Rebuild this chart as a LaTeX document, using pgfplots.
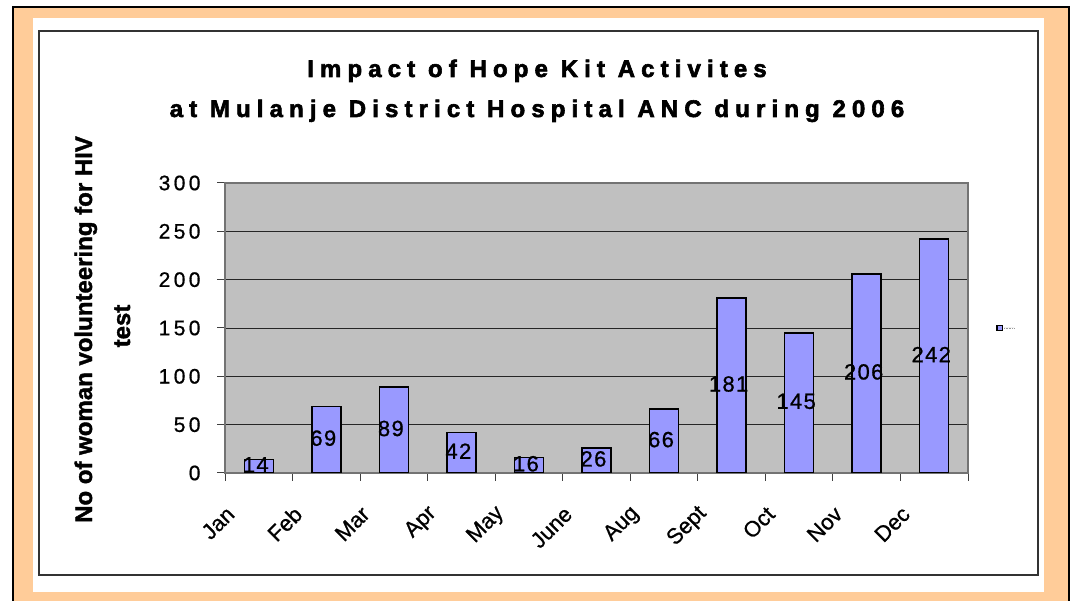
\documentclass[border=0pt]{standalone}
\usepackage{fontspec}
\setmainfont{Liberation Sans}
\usepackage{pgfplots}
\pgfplotsset{compat=1.18}
\definecolor{peach}{HTML}{FFCC99}
\definecolor{plotgray}{HTML}{C0C0C0}
\definecolor{barblue}{HTML}{9999FF}

\begin{document}
\begin{tikzpicture}[x=1pt,y=1pt]
\useasboundingbox (0,0) rectangle (1074,601);
\begin{scope}
\clip (0,0) rectangle (1074,601);
\fill[white] (0,0) rectangle (1074,601);
\filldraw[fill=peach, draw=black, line width=2pt] (13,-10) rectangle (1069,594);
\fill[white] (33,9) rectangle (1044,583);
\draw[black!80, line width=1.5pt] (39,26) rectangle (1038,570);
\end{scope}

\node[anchor=base, font=\fontsize{24}{28}\selectfont\bfseries\addfontfeature{LetterSpace=25.5,FakeBold=2.5}] at (537,524) {Impact of Hope Kit Activites};
\node[anchor=base, font=\fontsize{24}{28}\selectfont\bfseries\addfontfeature{LetterSpace=25.5,FakeBold=2.5}] at (537,484) {at Mulanje District Hospital ANC during 2006};

\node[rotate=90, anchor=base, font=\fontsize{24}{28}\selectfont\bfseries\addfontfeature{FakeBold=1.5}] at (92,271.5) {No of woman volunteering for HIV};
\node[rotate=90, anchor=base, font=\fontsize{24}{28}\selectfont\bfseries\addfontfeature{FakeBold=1.5}] at (130,275) {test};

\begin{axis}[
  at={(225pt,128pt)}, anchor=south west,
  scale only axis, width=743pt, height=290pt,
  xmin=-0.5, xmax=10.5, ymin=0, ymax=300,
  ytick={0,50,100,150,200,250,300},
  xtick={-0.5,0.5,1.5,2.5,3.5,4.5,5.5,6.5,7.5,8.5,9.5,10.5},
  xticklabels={Jan,Feb,Mar,Apr,May,June,Aug,Sept,Oct,Nov,Dec,{}},
  xtick pos=bottom, ytick pos=left,
  tick align=outside, major tick length=8pt,
  tick style={black!75, line width=1pt},
  ymajorgrids, grid style={black!85, line width=0.8pt},
  axis background/.style={fill=plotgray},
  axis line style={draw=black!55, line width=1.2pt},
  /pgf/number format/assume math mode=true,
  yticklabel style={font=\fontsize{21}{24}\selectfont\addfontfeature{LetterSpace=16,FakeBold=0.8}, xshift=-13pt},
  xticklabel style={font=\fontsize{22}{24}\selectfont\addfontfeature{FakeBold=0.8}, xshift=8pt, yshift=-27pt, rotate=45, anchor=east},
  ybar, bar width=29pt,
  nodes near coords,
  visualization depends on={rawy \as \rawy},
  every node near coord/.append style={font=\fontsize{22}{24}\selectfont\addfontfeature{LetterSpace=6,FakeBold=0.8}, black, anchor=center, xshift=-3pt, yshift={-0.483333*\rawy*1pt+1.5pt}},
  legend style={at={(axis description cs:1.038,0.5)}, anchor=west, draw=none, fill=none, inner sep=0pt},
  legend image code/.code={\draw[fill=barblue, draw=black, line width=1.3pt] (0pt,-2.8pt) rectangle (5.6pt,2.8pt); \draw[black!40, densely dotted, line width=0.6pt] (7pt,0pt) -- (17pt,0pt);},
]
\addplot[fill=barblue, draw=black, line width=1.4pt] coordinates {
 (0,14) (1,69) (2,89) (3,42) (4,16) (5,26) (6,66) (7,181) (8,145) (9,206) (10,242)
};
\addlegendentry{}
\end{axis}
\end{tikzpicture}
\end{document}
